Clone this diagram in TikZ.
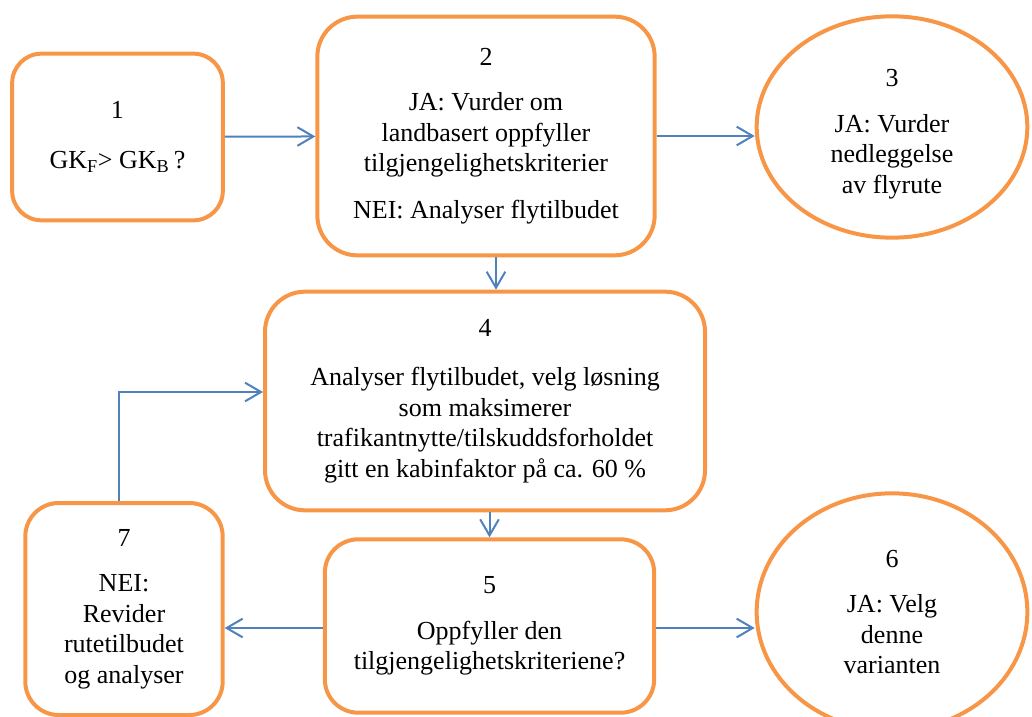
\documentclass[tikz,border=0pt]{standalone}
\usepackage{fontspec}
\setmainfont{Liberation Serif}
\usepackage{xcolor}
\usetikzlibrary{shapes,positioning,calc,arrows.meta}
\definecolor{boxorange}{HTML}{F79646}
\definecolor{flowblue}{HTML}{4F81BD}

\begin{document}
\begin{tikzpicture}[x=0.75pt,y=-0.75pt,
    stepbox/.style={draw=boxorange, line width=3pt, rounded corners=#1, align=center,
        font=\fontsize{19.5}{23}\selectfont},
    stepbox/.default=28pt,
    endoval/.style={draw=boxorange, line width=3pt, ellipse, inner sep=0pt, align=center,
        minimum width=203pt, font=\fontsize{19.5}{23}\selectfont},
    flow/.style={draw=flowblue, line width=1.5pt, -{Straight Barb[length=12pt,width=14pt]}}]
    \useasboundingbox (0,0) rectangle (1032,717);
    \node[stepbox=22pt, minimum width=158pt, minimum height=125pt] (b1) at (117.5,137)
        {1\\[14pt] GK\textsubscript{F}> GK\textsubscript{B}\,?};
    \node[stepbox=30pt, minimum width=253pt, minimum height=179pt] (b2) at (486,136)
        {2\\[11pt] JA: Vurder om\\ landbasert oppfyller\\ tilgjengelighetskriterier\\[12pt] NEI: Analyser flytilbudet};
    \node[endoval, minimum height=166pt] (e3) at (892,127)
        {\rule{0pt}{24pt}3\\[11pt] JA: Vurder\\ nedleggelse\\ av flyrute};
    \node[stepbox=30pt, minimum width=330pt, minimum height=164pt] (b4) at (485,401)
        {4\\[14pt] Analyser flytilbudet, velg løsning\\ som maksimerer\\ trafikantnytte/tilskuddsforholdet\\ gitt en kabinfaktor på ca. 60 \%};
    \node[stepbox=25pt, minimum width=247pt, minimum height=130pt] (b5) at (489.5,626)
        {5\\[11pt] Oppfyller den\\ tilgjengelighetskriteriene?};
    \node[endoval, minimum height=178pt] (e6) at (892,612)
        {6\\[11pt] JA: Velg\\ denne\\ varianten};
    \node[stepbox=25pt, minimum width=148pt, minimum height=159pt] (b7) at (124,609)
        {7\\[11pt] NEI:\\ Revider\\ rutetilbudet\\ og analyser};
    \coordinate (turn) at (119,392); % corner of the return line
    \draw[flow] (b1) -- (b2);
    \draw[flow] (b2.east) -- (b2.east -| e3.west);
    \draw[flow] ([xshift=7.5pt]b2.south) -- ([xshift=7.5pt]b2.south |- b4.north);
    \draw[flow] (b4.south -| b5.north) -- (b5.north);
    \draw[flow] ([yshift=-1.5pt]b5.west) -- ([yshift=-1.5pt]b5.west -| b7.east);
    \draw[flow] ([yshift=-1.5pt]b5.east) -- ([yshift=-1.5pt]b5.east -| e6.west);
    \draw[flow] (b7.north -| turn) |- (turn -| b4.west);
\end{tikzpicture}
\end{document}
